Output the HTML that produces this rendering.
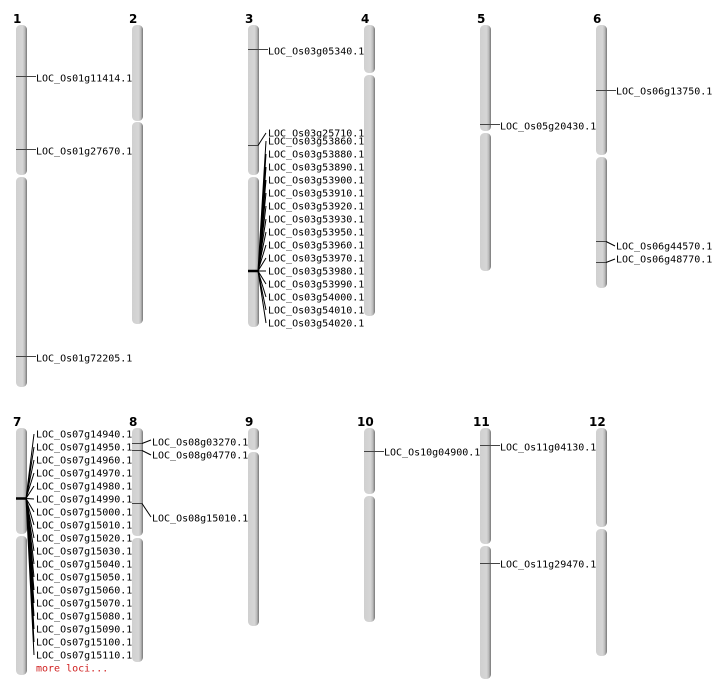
<!DOCTYPE html>
<html><head><meta charset="utf-8"><style>
html,body{margin:0;padding:0;background:#fff;}
svg{display:block;}
text{font-family:"DejaVu Sans Mono","Liberation Mono",monospace;font-size:10px;fill:#000;dominant-baseline:central;}
.n{font-family:"DejaVu Sans","Liberation Sans",sans-serif;font-weight:bold;font-size:12px;}
.c{fill:url(#g);}
.m{stroke:#444;stroke-width:1;}
.l{stroke:#000;stroke-width:1;fill:none;}
</style></head><body>
<svg width="712" height="700" viewBox="0 0 712 700" xmlns="http://www.w3.org/2000/svg">
<defs><linearGradient id="g" x1="0" x2="1" y1="0" y2="0">
<stop offset="0" stop-color="#d0d0d0"/><stop offset="0.6" stop-color="#d6d6d6"/><stop offset="0.8" stop-color="#bbb"/><stop offset="1" stop-color="#777"/></linearGradient></defs>
<g transform="translate(0,1)">
<text class="n" x="13" y="18">1</text><text class="n" x="129" y="18">2</text><text class="n" x="245" y="18">3</text><text class="n" x="361" y="18">4</text><text class="n" x="477" y="18">5</text><text class="n" x="593" y="18">6</text>
<text class="n" x="13" y="421">7</text><text class="n" x="129" y="421">8</text><text class="n" x="245" y="421">9</text><text class="n" x="357" y="421">10</text><text class="n" x="473" y="421">11</text><text class="n" x="589" y="421">12</text>
</g>
<rect class="c" x="16" y="25" width="11" height="150" rx="4.5"/><rect class="c" x="16" y="177" width="11" height="210" rx="4.5"/>
<rect class="c" x="132" y="25" width="11" height="96" rx="4.5"/><rect class="c" x="132" y="122" width="11" height="202" rx="4.5"/>
<rect class="c" x="248" y="25" width="11" height="150" rx="4.5"/><rect class="c" x="248" y="177" width="11" height="150" rx="4.5"/>
<rect class="c" x="364" y="25" width="11" height="48" rx="4.5"/><rect class="c" x="364" y="75" width="11" height="241" rx="4.5"/>
<rect class="c" x="480" y="25" width="11" height="106" rx="4.5"/><rect class="c" x="480" y="133" width="11" height="138" rx="4.5"/>
<rect class="c" x="596" y="25" width="11" height="130" rx="4.5"/><rect class="c" x="596" y="157" width="11" height="131" rx="4.5"/>
<rect class="c" x="16" y="428" width="11" height="106" rx="4.5"/><rect class="c" x="16" y="536" width="11" height="139" rx="4.5"/>
<rect class="c" x="132" y="428" width="11" height="108" rx="4.5"/><rect class="c" x="132" y="538" width="11" height="124" rx="4.5"/>
<rect class="c" x="248" y="428" width="11" height="22" rx="4.5"/><rect class="c" x="248" y="452" width="11" height="174" rx="4.5"/>
<rect class="c" x="364" y="428" width="11" height="66" rx="4.5"/><rect class="c" x="364" y="496" width="11" height="126" rx="4.5"/>
<rect class="c" x="480" y="428" width="11" height="116" rx="4.5"/><rect class="c" x="480" y="546" width="11" height="133" rx="4.5"/>
<rect class="c" x="596" y="428" width="11" height="99" rx="4.5"/><rect class="c" x="596" y="529" width="11" height="127" rx="4.5"/>
<line class="m" x1="16" x2="36" y1="76.5" y2="76.5"/>
<line class="m" x1="16" x2="36" y1="149.5" y2="149.5"/>
<line class="m" x1="16" x2="36" y1="356.5" y2="356.5"/>
<line class="m" x1="248" x2="268" y1="49.5" y2="49.5"/>
<line class="m" x1="248" x2="258" y1="145.5" y2="145.5"/><path class="l" d="M258 145.5 L266 133"/>
<line x1="248" x2="258" y1="271" y2="271" stroke="#000" stroke-width="2.5"/>
<path class="l" d="M258 271L266 141M258 271L266 154M258 271L266 167M258 271L266 180M258 271L266 193M258 271L266 206M258 271L266 219M258 271L266 232M258 271L266 245M258 271L266 258M258 271L266 271M258 271L266 284M258 271L266 297M258 271L266 310M258 271L266 323"/>
<line class="m" x1="480" x2="500" y1="124.5" y2="124.5"/>
<line class="m" x1="596" x2="616" y1="90.5" y2="90.5"/>
<line class="m" x1="596" x2="606" y1="241.5" y2="241.5"/><path class="l" d="M606 241.5L615 246"/>
<line class="m" x1="596" x2="606" y1="262.5" y2="262.5"/><path class="l" d="M606 262.5L615 259"/>
<line x1="16" x2="26" y1="498.5" y2="498.5" stroke="#000" stroke-width="2.5"/>
<path class="l" d="M26 498.5L34 434M26 498.5L34 447M26 498.5L34 460M26 498.5L34 473M26 498.5L34 486M26 498.5L34 499M26 498.5L34 512M26 498.5L34 525M26 498.5L34 538M26 498.5L34 551M26 498.5L34 564M26 498.5L34 577M26 498.5L34 590M26 498.5L34 603M26 498.5L34 616M26 498.5L34 629M26 498.5L34 642M26 498.5L34 655"/>
<line class="m" x1="132" x2="142" y1="443.5" y2="443.5"/><path class="l" d="M142 443.5L151 440"/>
<line class="m" x1="132" x2="142" y1="450.5" y2="450.5"/><path class="l" d="M142 450.5L151 455"/>
<line class="m" x1="132" x2="142" y1="503.5" y2="503.5"/><path class="l" d="M142 503.5L151 517"/>
<line class="m" x1="364" x2="384" y1="451.5" y2="451.5"/>
<line class="m" x1="480" x2="500" y1="445.5" y2="445.5"/>
<line class="m" x1="480" x2="500" y1="563.5" y2="563.5"/>
<g transform="translate(0,1)">
<text x="36" y="78">LOC_Os01g11414.1</text>
<text x="36" y="151">LOC_Os01g27670.1</text>
<text x="36" y="358">LOC_Os01g72205.1</text>
<text x="268" y="51">LOC_Os03g05340.1</text>
<text x="268" y="133">LOC_Os03g25710.1</text>
<text x="268" y="141">LOC_Os03g53860.1</text><text x="268" y="154">LOC_Os03g53880.1</text><text x="268" y="167">LOC_Os03g53890.1</text><text x="268" y="180">LOC_Os03g53900.1</text><text x="268" y="193">LOC_Os03g53910.1</text><text x="268" y="206">LOC_Os03g53920.1</text><text x="268" y="219">LOC_Os03g53930.1</text><text x="268" y="232">LOC_Os03g53950.1</text><text x="268" y="245">LOC_Os03g53960.1</text><text x="268" y="258">LOC_Os03g53970.1</text><text x="268" y="271">LOC_Os03g53980.1</text><text x="268" y="284">LOC_Os03g53990.1</text><text x="268" y="297">LOC_Os03g54000.1</text><text x="268" y="310">LOC_Os03g54010.1</text><text x="268" y="323">LOC_Os03g54020.1</text>
<text x="500" y="126">LOC_Os05g20430.1</text>
<text x="616" y="91">LOC_Os06g13750.1</text>
<text x="616" y="246">LOC_Os06g44570.1</text>
<text x="616" y="259">LOC_Os06g48770.1</text>
<text x="36" y="434">LOC_Os07g14940.1</text><text x="36" y="447">LOC_Os07g14950.1</text><text x="36" y="460">LOC_Os07g14960.1</text><text x="36" y="473">LOC_Os07g14970.1</text><text x="36" y="486">LOC_Os07g14980.1</text><text x="36" y="499">LOC_Os07g14990.1</text><text x="36" y="512">LOC_Os07g15000.1</text><text x="36" y="525">LOC_Os07g15010.1</text><text x="36" y="538">LOC_Os07g15020.1</text><text x="36" y="551">LOC_Os07g15030.1</text><text x="36" y="564">LOC_Os07g15040.1</text><text x="36" y="577">LOC_Os07g15050.1</text><text x="36" y="590">LOC_Os07g15060.1</text><text x="36" y="603">LOC_Os07g15070.1</text><text x="36" y="616">LOC_Os07g15080.1</text><text x="36" y="629">LOC_Os07g15090.1</text><text x="36" y="642">LOC_Os07g15100.1</text><text x="36" y="655">LOC_Os07g15110.1</text>
<text x="36" y="668" style="fill:#d02020">more loci...</text>
<text x="152" y="442">LOC_Os08g03270.1</text>
<text x="152" y="455">LOC_Os08g04770.1</text>
<text x="152" y="518">LOC_Os08g15010.1</text>
<text x="384" y="452">LOC_Os10g04900.1</text>
<text x="500" y="447">LOC_Os11g04130.1</text>
<text x="500" y="564">LOC_Os11g29470.1</text>
</g>
</svg>
</body></html>
